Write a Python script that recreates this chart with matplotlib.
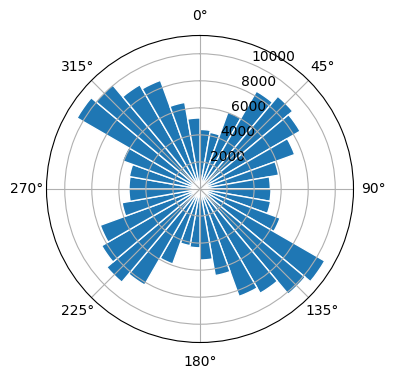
import numpy as np
import matplotlib
matplotlib.use("Agg")
import matplotlib.pyplot as plt

# wind direction bins (degrees, left edge of each 10 deg sector) and counts
directions = np.arange(0, 360, 10)
counts = [4400, 4250, 6050, 8350, 8950, 8550, 7450, 5900, 5200,
          5250, 5300, 6300, 10650, 10150, 8900, 8450, 6500, 5250,
          4350, 4250, 5900, 8200, 9000, 8400, 7850, 5850, 5250,
          5250, 5300, 6100, 10500, 10050, 8900, 8550, 6500, 5250]
theta_ticks = [0, 45, 90, 135, 180, 225, 270, 315]

fig = plt.figure(figsize=(3.96, 3.8), dpi=100)
ax = fig.add_axes([0.1174, 0.0987, 0.7753, 0.8079], projection="polar")
ax.set_theta_zero_location("N")
ax.set_theta_direction(-1)

ax.bar(np.radians(directions), counts, width=np.radians(10), align="edge",
       color="C0", edgecolor="white", linewidth=1)

ax.set_thetagrids(theta_ticks)
ax.set_ylim(0, 11350)
ax.set_yticks([2000, 4000, 6000, 8000, 10000])

fig.savefig("out.png", dpi=100)
